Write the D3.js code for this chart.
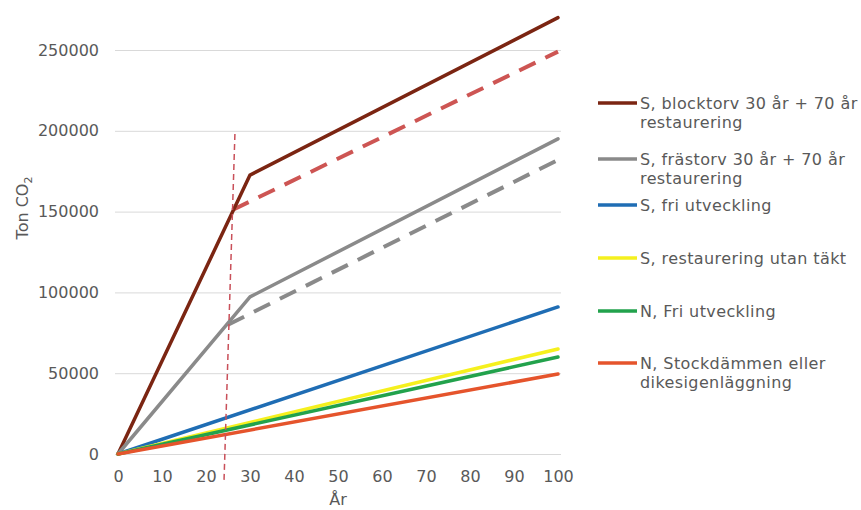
<!DOCTYPE html>
<html>
<head>
<meta charset="utf-8">
<script src="https://cdn.jsdelivr.net/npm/d3@7"></script>
<style>
  html, body { margin: 0; padding: 0; background: #ffffff; }
  svg { display: block; }
  text { font-family: "DejaVu Sans", Verdana, sans-serif; fill: #595959; }
</style>
</head>
<body>
<svg id="chart" width="861" height="510"></svg>
<script>
// ---- data ----
const xTicks = [0, 10, 20, 30, 40, 50, 60, 70, 80, 90, 100];
const yTicks = [0, 50000, 100000, 150000, 200000, 250000];

const kinkYears = [0, 30, 100];
const blocktorv = [0, 172600, 270000];
const frastorv = [0, 97200, 195000];

const blocktorvRestYears = [26, 100];
const blocktorvRest = [151000, 249000];
const frastorvRestYears = [25, 100];
const frastorvRest = [80000, 182000];

const linYears = [0, 100];
const sFriUtv = [0, 91000];
const sRestUtan = [0, 65000];
const nFriUtv = [0, 60000];
const nStock = [0, 49500];

const markerYears = [24.1, 26.6];
const markerValues = [-16000, 200500];

const legendLabels = [
  ["S, blocktorv 30 år + 70 år", "restaurering"],
  ["S, frästorv 30 år + 70 år", "restaurering"],
  ["S, fri utveckling"],
  ["S, restaurering utan täkt"],
  ["N, Fri utveckling"],
  ["N, Stockdämmen eller", "dikesigenläggning"]
];
const legendColors = ["#7b2512", "#8a8a8a", "#1f6db4", "#f5f01e", "#22a24c", "#e5542c"];

// ---- chart ----
const svg = d3.select("#chart");
const x = d3.scaleLinear().domain([0, 100]).range([118, 558]);
const y = d3.scaleLinear().domain([0, 250000]).range([454, 50]);

// gridlines + y labels
const yAxis = d3.axisLeft(y).tickValues(yTicks).tickFormat(d3.format("d"))
  .tickSize(-(x(100) - x(0) + 6)).tickPadding(16);
const gy = svg.append("g").attr("transform", `translate(${x(0) - 3},0)`).call(yAxis);
gy.select(".domain").remove();
gy.selectAll(".tick line").attr("stroke", "#d9d9d9").attr("stroke-width", 1);
gy.selectAll(".tick text").attr("font-size", 16).attr("fill", "#595959")
  .style("font-family", "'DejaVu Sans', Verdana, sans-serif");

// x labels
const xAxis = d3.axisBottom(x).tickValues(xTicks).tickSize(0).tickPadding(17);
const gx = svg.append("g").attr("transform", `translate(0,${y(0)})`).call(xAxis);
gx.select(".domain").remove();
gx.selectAll(".tick text").attr("font-size", 16).attr("fill", "#595959")
  .style("font-family", "'DejaVu Sans', Verdana, sans-serif");

// axis titles
svg.append("text").attr("x", x(50)).attr("y", 505).attr("text-anchor", "middle")
  .attr("font-size", 16).text("År");
const yt = svg.append("text").attr("transform", "translate(28,208) rotate(-90)")
  .attr("text-anchor", "middle").attr("font-size", 16);
yt.append("tspan").text("Ton CO");
yt.append("tspan").attr("font-size", 11).attr("dy", 4).text("2");

const line = d3.line().x(d => x(d[0])).y(d => y(d[1]));
const zip = (xs, ys) => xs.map((v, i) => [v, ys[i]]);

const series = [
  { xs: blocktorvRestYears, ys: blocktorvRest, color: "#cd5553", dash: "18,11", w: 4 },
  { xs: frastorvRestYears, ys: frastorvRest, color: "#8a8a8a", dash: "18,11", w: 4 },
  { xs: kinkYears, ys: blocktorv, color: legendColors[0], w: 3.5 },
  { xs: kinkYears, ys: frastorv, color: legendColors[1], w: 3.5 },
  { xs: linYears, ys: sFriUtv, color: legendColors[2], w: 3.5 },
  { xs: linYears, ys: sRestUtan, color: legendColors[3], w: 3.5 },
  { xs: linYears, ys: nFriUtv, color: legendColors[4], w: 3.5 },
  { xs: linYears, ys: nStock, color: legendColors[5], w: 3.5 }
];

svg.append("g").selectAll("path").data(series).join("path")
  .attr("d", d => line(zip(d.xs, d.ys)))
  .attr("fill", "none")
  .attr("stroke", d => d.color)
  .attr("stroke-width", d => d.w)
  .attr("stroke-dasharray", d => d.dash || null)
  .attr("stroke-linejoin", "round")
  .attr("stroke-linecap", d => d.dash ? "butt" : "round");

// vertical marker line
svg.append("path").attr("d", line(zip(markerYears, markerValues)))
  .attr("fill", "none").attr("stroke", "#c9505a").attr("stroke-width", 1.5)
  .attr("stroke-dasharray", "6,4");

// legend
const legendRowsY = [103, 159, 205, 258, 311, 363];
const lg = svg.append("g");
legendLabels.forEach((lines, i) => {
  const cy = legendRowsY[i];
  lg.append("line").attr("x1", 598).attr("x2", 637).attr("y1", cy).attr("y2", cy)
    .attr("stroke", legendColors[i]).attr("stroke-width", 3.5);
  lines.forEach((t, j) => {
    lg.append("text").attr("x", 640).attr("y", cy + 6 + j * 19)
      .attr("font-size", 16).attr("letter-spacing", 0.4).text(t);
  });
});
</script>
</body>
</html>
